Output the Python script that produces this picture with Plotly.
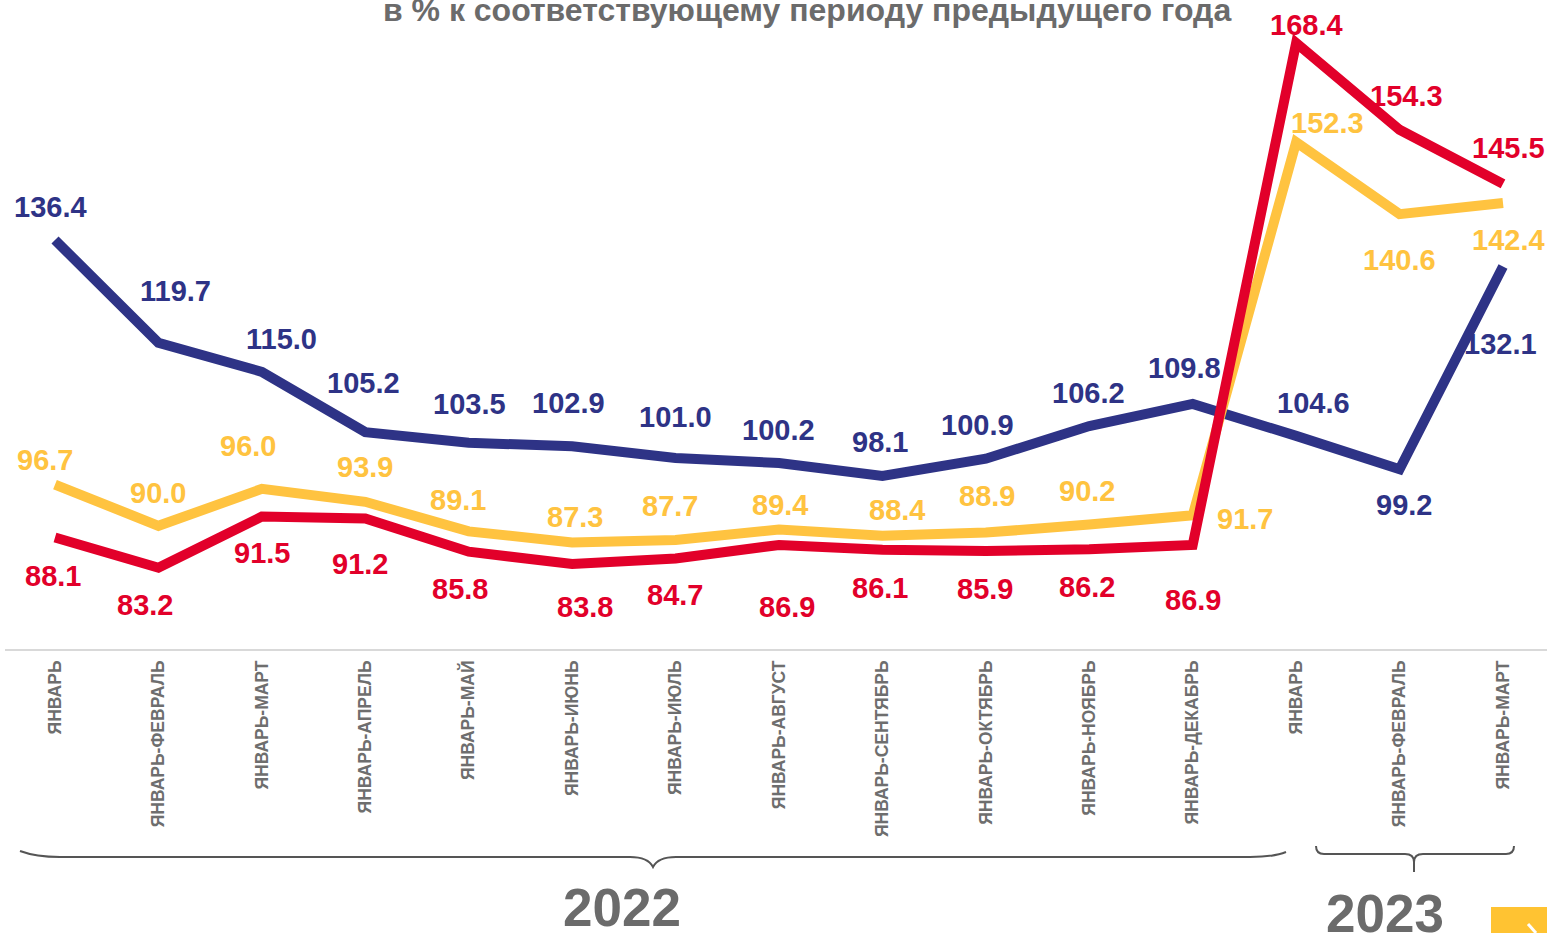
import plotly.graph_objects as go

categories = ["ЯНВАРЬ", "ЯНВАРЬ-ФЕВРАЛЬ", "ЯНВАРЬ-МАРТ", "ЯНВАРЬ-АПРЕЛЬ", "ЯНВАРЬ-МАЙ",
              "ЯНВАРЬ-ИЮНЬ", "ЯНВАРЬ-ИЮЛЬ", "ЯНВАРЬ-АВГУСТ", "ЯНВАРЬ-СЕНТЯБРЬ",
              "ЯНВАРЬ-ОКТЯБРЬ", "ЯНВАРЬ-НОЯБРЬ", "ЯНВАРЬ-ДЕКАБРЬ",
              "ЯНВАРЬ", "ЯНВАРЬ-ФЕВРАЛЬ", "ЯНВАРЬ-МАРТ"]
navy_values = [136.4, 119.7, 115.0, 105.2, 103.5, 102.9, 101.0, 100.2, 98.1, 100.9, 106.2, 109.8, 104.6, 99.2, 132.1]
yellow_values = [96.7, 90.0, 96.0, 93.9, 89.1, 87.3, 87.7, 89.4, 88.4, 88.9, 90.2, 91.7, 152.3, 140.6, 142.4]
red_values = [88.1, 83.2, 91.5, 91.2, 85.8, 83.8, 84.7, 86.9, 86.1, 85.9, 86.2, 86.9, 168.4, 154.3, 145.5]
title_text = "в % к соответствующему периоду предыдущего года"
year_labels = ["2022", "2023"]

# label offsets in pixels (dx right, dy down)
navy_off = [(-5, -33), (17, -52), (20, -33), (-2, -49), (1, -39), (-4, -43), (0, -41), (-1, -33),
            (-2, -34), (-8, -34), (-1, -33), (-8, -36), (17, -33), (4, 36), (-3, 78)]
yellow_off = [(-10, -25), (0, -33), (-14, -43), (0, -35), (-11, -31), (3, -25), (-6, -34), (1, -25),
              (15, -26), (1, -37), (-2, -34), (52, 4), (31, -19), (0, 46), (5, 37)]
red_off = [(-2, 38), (-13, 37), (0, 36), (-5, 46), (-9, 37), (13, 43), (-1, 37), (8, 62),
           (-2, 38), (-1, 38), (-2, 38), (0, 55), (10, -18), (7, -34), (5, -36)]

NAVY = "#2E3386"
YELLOW = "#FFC340"
RED = "#E2002A"
GREY = "#6B6B6B"
FONT = "Liberation Sans, Arial, sans-serif"

W, H = 1547, 933
PLOT_H = 650

def xp(px):
    return px / W

def yp(py):
    return 1 - py / PLOT_H

xs = list(range(len(categories)))
fig = go.Figure()
for vals, col in [(navy_values, NAVY), (yellow_values, YELLOW), (red_values, RED)]:
    fig.add_trace(go.Scatter(x=xs, y=vals, mode="lines",
                             line=dict(color=col, width=10), cliponaxis=False,
                             hoverinfo="skip", showlegend=False))

annotations = []
for vals, offs, col in [(navy_values, navy_off, NAVY), (yellow_values, yellow_off, YELLOW),
                        (red_values, red_off, RED)]:
    for i, (v, (dx, dy)) in enumerate(zip(vals, offs)):
        annotations.append(dict(x=i, y=v, xref="x", yref="y", text=f"{v:.1f}",
                                showarrow=False, xshift=dx, yshift=-dy,
                                xanchor="center", yanchor="middle",
                                font=dict(family=FONT, size=29, color=col, weight="bold")))

annotations.append(dict(x=xp(807), y=yp(10), xref="paper", yref="paper", text=title_text,
                        showarrow=False, xanchor="center", yanchor="middle",
                        font=dict(family=FONT, size=32, color=GREY, weight="bold")))
annotations.append(dict(x=xp(622), y=yp(907), xref="paper", yref="paper", text=year_labels[0],
                        showarrow=False, xanchor="center", yanchor="middle",
                        font=dict(family=FONT, size=53, color=GREY, weight="bold")))
annotations.append(dict(x=xp(1385), y=yp(913), xref="paper", yref="paper", text=year_labels[1],
                        showarrow=False, xanchor="center", yanchor="middle",
                        font=dict(family=FONT, size=53, color=GREY, weight="bold")))

def path_px(cmds):
    out = []
    for c in cmds:
        if isinstance(c, str):
            out.append(c)
        else:
            out.append(f"{xp(c[0]):.5f},{yp(c[1]):.5f}")
    return " ".join(out)

brace22 = path_px(["M", (20, 851), "Q", (36, 857), (60, 857), "L", (630, 857), "Q", (648, 857), (653, 867),
                   "Q", (658, 857), (676, 857), "L", (1250, 857), "Q", (1274, 857), (1286, 852)])
brace23 = path_px(["M", (1316, 846), "Q", (1316, 854), (1324, 854), "L", (1405, 854), "Q", (1414, 854), (1414, 862),
                   "Q", (1414, 854), (1423, 854), "L", (1506, 854), "Q", (1514, 854), (1514, 846),
                   "M", (1414, 860), "L", (1414, 872)])

shapes = [
    dict(type="line", xref="paper", yref="paper", x0=xp(5), x1=1, y0=yp(650), y1=yp(650),
         line=dict(color="#D9D9D9", width=2)),
    dict(type="path", xref="paper", yref="paper", path=brace22, line=dict(color="#555555", width=2)),
    dict(type="path", xref="paper", yref="paper", path=brace23, line=dict(color="#555555", width=2)),
    dict(type="rect", xref="paper", yref="paper", x0=xp(1491), x1=1.01, y0=yp(907), y1=yp(940),
         fillcolor="#FFC332", line=dict(width=0)),
    dict(type="line", xref="paper", yref="paper", x0=xp(1528), x1=xp(1536), y0=yp(924), y1=yp(933),
         line=dict(color="white", width=3)),
]

x_lo = -55 / 1448 * 14
x_hi = x_lo + 14 * W / 1448
y_lo = 136.4 - (PLOT_H - 240) / 6.16
y_hi = 136.4 + 240 / 6.16

fig.update_layout(
    width=W, height=H,
    margin=dict(l=0, r=0, t=0, b=H - PLOT_H, pad=0),
    paper_bgcolor="white", plot_bgcolor="white",
    xaxis=dict(range=[x_lo, x_hi], tickmode="array", tickvals=xs, ticktext=categories,
               tickangle=-90, showgrid=False, zeroline=False, showline=False, ticks="",
               ticklabelstandoff=6,
               tickfont=dict(family=FONT, size=17.5, color="#6E6E6E", weight="bold")),
    yaxis=dict(range=[y_lo, y_hi], visible=False, showgrid=False, zeroline=False),
    annotations=annotations, shapes=shapes,
)

fig.write_html("out.html", config={"displayModeBar": False},
               post_script="document.body.style.margin='0px';document.body.style.overflow='hidden';")
